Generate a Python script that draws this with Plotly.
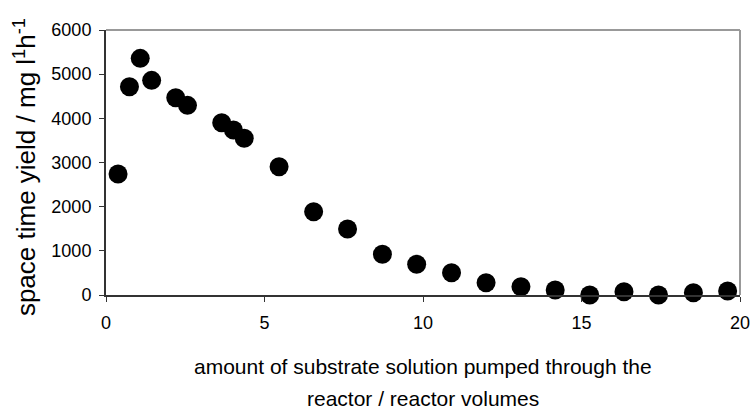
import plotly.graph_objects as go

volumes = [0.38, 0.74, 1.08, 1.44, 2.2, 2.57, 3.65, 4.02, 4.36, 5.46, 6.55, 7.62,
           8.72, 9.8, 10.9, 11.99, 13.09, 14.17, 15.26, 16.34, 17.43, 18.53, 19.61]
yields = [2740, 4717, 5358, 4860, 4468, 4294, 3902, 3736, 3547, 2905, 1886, 1494,
          921, 695, 505, 279, 188, 113, 0, 75, 0, 52, 90]
x_ticks = [0, 5, 10, 15, 20]
y_ticks = [0, 1000, 2000, 3000, 4000, 5000, 6000]
x_title = ["amount of substrate solution pumped through the", "reactor / reactor volumes"]
y_title = "space time yield / mg l<sup>1</sup>h<sup>-1</sup>"

font = "Liberation Sans, Arial, sans-serif"

fig = go.Figure(go.Scatter(
    x=volumes, y=yields, mode="markers",
    marker=dict(size=19, color="black", line=dict(width=0)),
    cliponaxis=False, showlegend=False,
))

annotations = [
    dict(text=x_title[0], xref="paper", yref="paper", x=0.5, y=-0.268,
         xanchor="center", yanchor="middle", showarrow=False,
         font=dict(size=21, family=font, color="black")),
    dict(text=x_title[1], xref="paper", yref="paper", x=0.5, y=-0.39,
         xanchor="center", yanchor="middle", showarrow=False,
         font=dict(size=21, family=font, color="black")),
    dict(text=y_title, xref="paper", yref="paper", x=-0.128, y=0.482,
         xanchor="center", yanchor="middle", showarrow=False, textangle=-90,
         font=dict(size=26, family=font, color="black")),
]

fig.update_layout(
    width=752, height=410,
    margin=dict(l=106, r=12, t=30, b=115),
    paper_bgcolor="white", plot_bgcolor="white",
    font=dict(family=font, color="black"),
    xaxis=dict(
        range=[0, 20], tickvals=x_ticks, showgrid=False, zeroline=False,
        showline=True, linecolor="#333", linewidth=2, automargin=False,
        ticks="outside", ticklen=5, tickcolor="#333", tickwidth=1,
        ticklabelstandoff=5,
        tickfont=dict(size=18, family=font),
    ),
    yaxis=dict(
        range=[0, 6000], tickvals=y_ticks, showgrid=False, zeroline=False,
        showline=True, linecolor="#333", linewidth=2, automargin=False,
        ticks="outside", ticklen=5, tickcolor="#333", tickwidth=1,
        ticklabelstandoff=4,
        tickfont=dict(size=18, family=font),
    ),
    annotations=annotations,
    shapes=[
        dict(type="line", xref="paper", yref="paper", x0=0, x1=1, y0=1, y1=1,
             line=dict(color="#999", width=2)),
        dict(type="line", xref="paper", yref="paper", x0=1, x1=1, y0=0, y1=1,
             line=dict(color="#999", width=2)),
    ],
)

fig.write_html("out.html", config={"displayModeBar": False},
               post_script="document.body.style.margin='0';")
